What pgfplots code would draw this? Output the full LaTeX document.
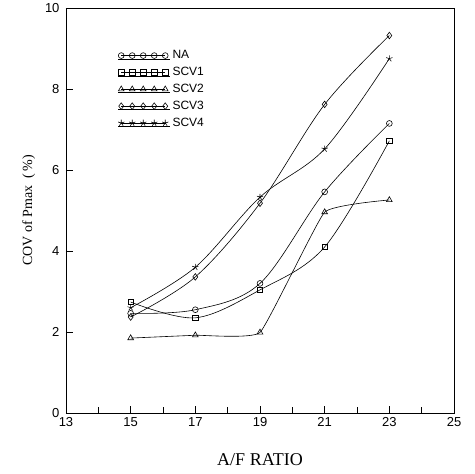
\documentclass[border=0pt]{standalone}
\usepackage{fontspec}
\setmainfont{Liberation Serif}
\setsansfont{Liberation Sans}
\usepackage{pgfplots}
\pgfplotsset{compat=1.18}
\begin{document}
\begin{tikzpicture}
\begin{axis}[
  scale only axis,
  width=388pt, height=405pt,
  xmin=13, xmax=25, ymin=0, ymax=10,
  xtick={13,15,17,19,21,23,25},
  minor xtick={14,16,18,20,22,24},
  ytick={0,2,4,6,8,10},
  tick align=inside,
  xtick pos=bottom, ytick pos=left,
  major tick length=7pt, minor tick length=6pt,
  tick style={black, line width=0.6pt},
  axis line style={line width=0.9pt},
  /pgf/number format/assume math mode=true,
  ticklabel style={font=\sffamily\fontsize{13}{13}\selectfont},
  xticklabel style={yshift=-1pt},
  yticklabel style={xshift=-3pt},
  xlabel={A/F RATIO},
  ylabel={COV of Pmax~~(\,\%)},
  xlabel style={font=\fontsize{18}{18}\selectfont, yshift=-20pt},
  ylabel style={font=\fontsize{14}{14}\selectfont, yshift=3pt},
  legend style={draw=none, fill=none, at={(axis cs:14.6,9.0)}, anchor=north west,
    font=\sffamily\fontsize{12}{12}\selectfont, row sep=3pt, inner sep=0pt},
  legend cell align=left,
  legend image code/.code={
    \draw[#1, mark=none] (0pt,-3.5pt) -- (52pt,-3.5pt);
    \path[#1] plot coordinates {(3pt,0pt) (14pt,0pt) (25pt,0pt) (36pt,0pt) (47pt,0pt)};
  },
  every axis plot/.append style={black, line width=0.6pt, smooth, tension=0.55,
    mark options={solid, fill=white, line width=0.6pt}},
]
\addplot[mark=o, mark size=2.9pt] coordinates {(15,2.46) (17,2.55) (19,3.2) (21,5.46) (23,7.15)};
\addlegendentry{NA}
\addplot[mark=square, mark size=2.6pt] coordinates {(15,2.74) (17,2.35) (19,3.04) (21,4.1) (23,6.72)};
\addlegendentry{SCV1}
\addplot[mark=triangle, mark size=3.3pt, tension=0.2] coordinates {(15,1.85) (17,1.92) (19,1.99) (21,4.96) (23,5.26)};
\addlegendentry{SCV2}
\addplot[mark=diamond, mark size=3.3pt] coordinates {(15,2.37) (17,3.36) (19,5.18) (21,7.62) (23,9.32)};
\addlegendentry{SCV3}
\addplot[mark=star, mark size=3.3pt] coordinates {(15,2.6) (17,3.6) (19,5.33) (21,6.52) (23,8.75)};
\addlegendentry{SCV4}
\end{axis}
\path (current axis.south west) ++(-66pt,-60pt);
\path (current axis.north east) ++(21pt,8pt);
\end{tikzpicture}
\end{document}
